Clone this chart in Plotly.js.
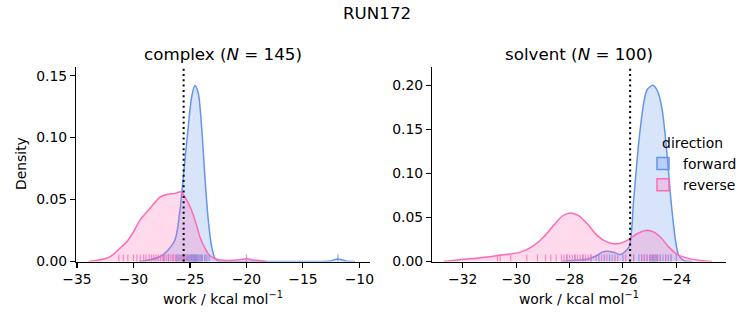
<!DOCTYPE html>
<html>
<head>
<meta charset="utf-8">
<script src="https://cdn.plot.ly/plotly-3.0.1.min.js"></script>
<style>html,body{margin:0;padding:0;background:#fff;}#chart{width:753px;height:325px;}</style>
</head>
<body>
<div id="chart"></div>
<script>
// ---- data ----
const suptitle = "RUN172";
const panelNames = ["complex", "solvent"];
const panelN = [145, 100];
const directions = ["forward", "reverse"];

// complex: KDE curves (work, density)
const complexFwdX = [-29.5,-28.53,-27.65,-27.06,-26.32,-25.88,-25.53,-25.15,-24.85,-24.56,-24.27,-23.97,-23.68,-23.38,-23.08,-22.79,-22.5,-20,-14,-12.6,-11.9,-11.2,-10.4];
const complexFwdY = [0,0.0014,0.004,0.008,0.0175,0.0417,0.074,0.109,0.133,0.142,0.136,0.109,0.0686,0.0336,0.012,0.0027,0.0003,0,0,0.0004,0.002,0.0004,0];
const complexRevX = [-33.97,-32.94,-32.06,-31.18,-30.59,-30.0,-29.41,-28.53,-27.65,-27.06,-26.32,-25.82,-25.44,-25.0,-24.56,-24.12,-23.68,-23.23,-22.65,-21.76,-20.59,-20.0,-19.4,-18.2];
const complexRevY = [0,0.0014,0.004,0.0108,0.016,0.024,0.0336,0.043,0.052,0.054,0.055,0.0562,0.052,0.0444,0.0336,0.020,0.0108,0.0046,0.0019,0.0008,0.0014,0.0022,0.0012,0];

// solvent: KDE curves
const solventFwdX = [-28.3,-27.72,-27.34,-26.97,-26.78,-26.59,-26.35,-26.09,-25.78,-25.60,-25.41,-25.22,-25.09,-24.88,-24.70,-24.53,-24.34,-24.20,-24.03,-23.91,-23.72,-23.4];
const solventFwdY = [0,0.0015,0.0025,0.0068,0.0106,0.0117,0.0105,0.008,0.0163,0.0695,0.134,0.18,0.195,0.1997,0.193,0.172,0.119,0.069,0.024,0.0068,0.001,0];
const solventRevX = [-32.71,-31.96,-31.09,-30.46,-29.84,-29.34,-28.97,-28.59,-28.28,-27.97,-27.66,-27.34,-26.97,-26.59,-26.22,-25.84,-25.47,-25.09,-24.85,-24.60,-24.28,-23.97,-23.6,-23.1,-22.66];
const solventRevY = [0,0.0025,0.005,0.0076,0.0106,0.018,0.0277,0.041,0.0513,0.055,0.052,0.043,0.0296,0.022,0.020,0.024,0.0315,0.0353,0.0334,0.0277,0.0163,0.008,0.0038,0.0011,0];

// rug samples (work values)
const complexFwdRug = [-27.3,-26.9,-26.5,-26.2,-26.0,-25.8,-25.6,-25.5,-25.3,-25.2,-25.1,-25.0,-24.9,-24.85,-24.8,-24.7,-24.65,-24.6,-24.55,-24.5,-24.45,-24.4,-24.3,-24.2,-24.1,-24.0,-23.9,-23.7,-23.5,-23.3,-11.9];
const complexRevRug = [-31.3,-30.9,-30.5,-30.0,-29.7,-29.4,-29.1,-28.9,-28.6,-28.4,-28.2,-28.0,-27.8,-27.6,-27.4,-27.3,-27.1,-26.9,-26.7,-26.5,-26.3,-26.1,-25.9,-25.7,-25.6,-25.4,-25.2,-25.0,-24.8,-24.6,-24.3,-24.0,-23.6,-20.0];
const solventFwdRug = [-28.1,-27.8,-27.5,-27.2,-26.9,-26.7,-26.5,-26.3,-26.0,-25.6,-25.4,-25.3,-25.2,-25.1,-25.0,-24.95,-24.9,-24.85,-24.8,-24.75,-24.7,-24.6,-24.5,-24.4,-24.3,-24.2,-24.0];
const solventRevRug = [-30.7,-30.6,-30.2,-29.6,-29.2,-28.9,-28.7,-28.5,-28.3,-28.2,-28.1,-28.0,-27.9,-27.8,-27.7,-27.6,-27.5,-27.4,-27.3,-27.2,-27.0,-26.8,-26.6,-26.4,-26.2,-25.9,-25.6,-25.3,-25.2,-25.1,-25.0,-24.9,-24.8,-24.7,-24.6,-24.4,-24.2];

// free-energy estimates (dotted lines)
const deltaG = [-25.56, -25.73];

// ticks
const complexXTicks = [-35,-30,-25,-20,-15,-10];
const complexYTicks = [0,0.05,0.10,0.15];
const solventXTicks = [-32,-30,-28,-26,-24];
const solventYTicks = [0,0.05,0.10,0.15,0.20];

// ---- styling ----
const W = 753, H = 325;
const FONT = "DejaVu Sans";
const FS = 13.9, FT = 16.7;
const colors = {forward: "#6495ED", reverse: "#FF69B4"};
const fills = {forward: "rgba(100,149,237,0.25)", reverse: "rgba(255,105,180,0.25)"};
const px = (a, b) => [a / W, b / W];
const py = (top, bot) => [1 - bot / H, 1 - top / H];

const panels = [
  {xa: "x", ya: "y", ra: "y3", curves: {forward: [complexFwdX, complexFwdY], reverse: [complexRevX, complexRevY]},
   rugs: {forward: complexFwdRug, reverse: complexRevRug}},
  {xa: "x2", ya: "y2", ra: "y4", curves: {forward: [solventFwdX, solventFwdY], reverse: [solventRevX, solventRevY]},
   rugs: {forward: solventFwdRug, reverse: solventRevRug}}
];

const traces = [];
panels.forEach((p, i) => {
  directions.forEach(d => {
    traces.push({
      x: p.curves[d][0], y: p.curves[d][1], xaxis: p.xa, yaxis: p.ya,
      type: "scatter", mode: "lines", fill: "tozeroy", fillcolor: fills[d],
      line: {color: colors[d], width: 1.5, shape: "spline", smoothing: 0.8},
      name: d, showlegend: false, hoverinfo: "skip"
    });
  });
});
panels.forEach((p, i) => {
  directions.forEach(d => {
    traces.push({
      x: p.rugs[d], y: p.rugs[d].map(() => 0.015), xaxis: p.xa, yaxis: p.ra,
      type: "scatter", mode: "markers",
      marker: {symbol: "line-ns-open", size: 6, color: colors[d], opacity: 0.75, line: {color: colors[d], width: 1.2}},
      showlegend: false, hoverinfo: "skip"
    });
  });
});

const axisCommon = {
  showline: true, linecolor: "#000", linewidth: 1.1, ticks: "outside", ticklen: 4.9, tickwidth: 1.1,
  tickcolor: "#000", showgrid: false, zeroline: false, mirror: false,
  tickfont: {family: FONT, size: FS, color: "#000"}, fixedrange: true
};

const dom1x = px(76, 370), dom2x = px(432, 726), domy = py(67, 261.5);

// legend patches (zero-size shapes, shown only through the legend)
const legendShapes = directions.map(d => ({
  type: "rect", xref: "paper", yref: "paper", x0: 0, x1: 0, y0: 0, y1: 0,
  fillcolor: fills[d], line: {color: colors[d], width: 1.5},
  showlegend: true, name: d, layer: "below"
}));

const layout = {
  width: W, height: H, margin: {l: 0, r: 0, t: 0, b: 0},
  paper_bgcolor: "#fff", plot_bgcolor: "rgba(0,0,0,0)",
  font: {family: FONT, size: FS, color: "#000"},
  xaxis: Object.assign({}, axisCommon, {domain: dom1x, range: [-35.09, -9.06], tickvals: complexXTicks, anchor: "y"}),
  yaxis: Object.assign({}, axisCommon, {domain: domy, range: [0, 0.157], tickvals: complexYTicks, tickformat: ".2f", anchor: "x"}),
  xaxis2: Object.assign({}, axisCommon, {domain: dom2x, range: [-33.15, -22.14], tickvals: solventXTicks, anchor: "y2"}),
  yaxis2: Object.assign({}, axisCommon, {domain: domy, range: [0, 0.2205], tickvals: solventYTicks, tickformat: ".2f", anchor: "x2"}),
  yaxis3: {overlaying: "y", range: [0, 1], visible: false, fixedrange: true, anchor: "x"},
  yaxis4: {overlaying: "y2", range: [0, 1], visible: false, fixedrange: true, anchor: "x2"},
  showlegend: true,
  legend: {
    x: 643 / W, y: 1 - 130 / H, xanchor: "left", yanchor: "top",
    bgcolor: "rgba(0,0,0,0)", borderwidth: 0,
    font: {family: FONT, size: FS, color: "#000"},
    title: {text: "direction", side: "top center", font: {family: FONT, size: FS, color: "#000"}},
    itemwidth: 30, tracegroupgap: 0
  },
  shapes: deltaG.map((v, i) => ({
    type: "line", xref: i === 0 ? "x" : "x2", yref: i === 0 ? "y domain" : "y2 domain",
    x0: v, x1: v, y0: 0, y1: 1, line: {color: "#000", width: 2, dash: "2px,3.3px"}, layer: "above"
  })).concat(legendShapes),
  annotations: [
    {text: suptitle, xref: "paper", yref: "paper", x: 376.5 / W, y: 1 - 13 / H, xanchor: "center", yanchor: "middle",
     showarrow: false, font: {family: FONT, size: FT, color: "#000"}},
    {text: panelNames[0] + " (<i>N</i> = " + panelN[0] + ")", xref: "paper", yref: "paper", x: 223 / W, y: 1 - 54 / H,
     xanchor: "center", yanchor: "middle", showarrow: false, font: {family: FONT, size: FT, color: "#000"}},
    {text: panelNames[1] + " (<i>N</i> = " + panelN[1] + ")", xref: "paper", yref: "paper", x: 579 / W, y: 1 - 54 / H,
     xanchor: "center", yanchor: "middle", showarrow: false, font: {family: FONT, size: FT, color: "#000"}},
    {text: "Density", xref: "paper", yref: "paper", x: 21 / W, y: 1 - 164 / H, textangle: -90,
     xanchor: "center", yanchor: "middle", showarrow: false, font: {family: FONT, size: FS, color: "#000"}},
    {text: "work / kcal mol<sup>−1</sup>", xref: "paper", yref: "paper", x: 223 / W, y: 1 - 298 / H,
     xanchor: "center", yanchor: "middle", showarrow: false, font: {family: FONT, size: FS, color: "#000"}},
    {text: "work / kcal mol<sup>−1</sup>", xref: "paper", yref: "paper", x: 579 / W, y: 1 - 298 / H,
     xanchor: "center", yanchor: "middle", showarrow: false, font: {family: FONT, size: FS, color: "#000"}}
  ]
};

Plotly.newPlot("chart", traces, layout, {displayModeBar: false, staticPlot: true});
</script>
</body>
</html>
